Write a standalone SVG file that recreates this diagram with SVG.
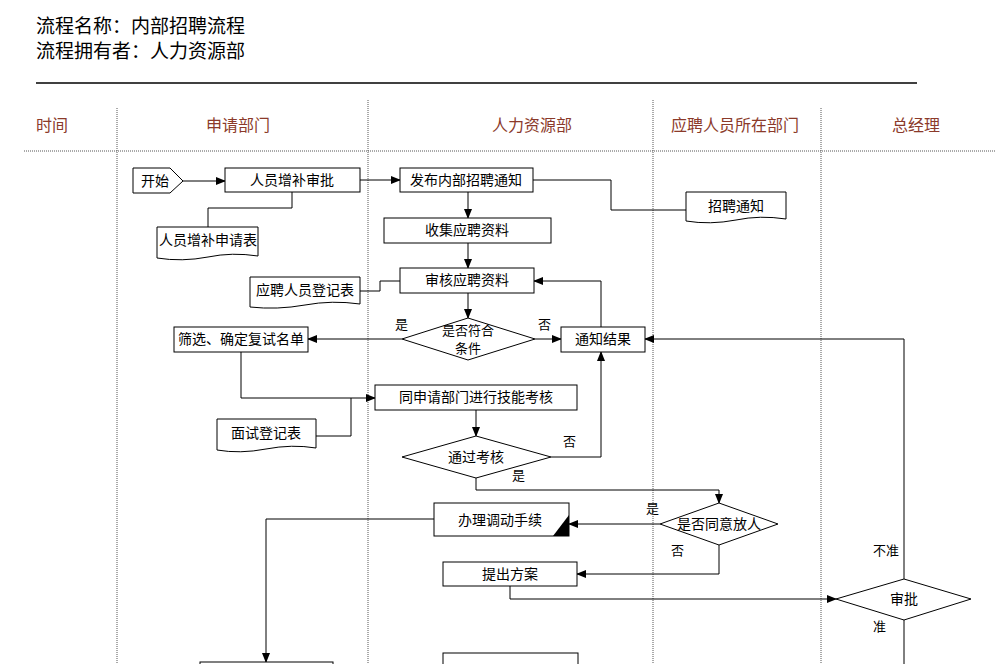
<svg xmlns="http://www.w3.org/2000/svg" width="995" height="664" viewBox="0 0 995 664">
<defs>
<marker id="ar" markerWidth="10" markerHeight="8" refX="9" refY="4" orient="auto" markerUnits="userSpaceOnUse"><path d="M0,0 L10,4 L0,8 z" fill="#000"/></marker>
</defs>
<style>
text{font-family:"Noto Sans CJK SC","Liberation Sans",sans-serif;fill:#000}
.t{font-size:19px}
.h{font-size:16px;fill:#8b3a2a;text-anchor:middle}
.n{font-size:14px;text-anchor:middle}
.s{font-size:13px;text-anchor:middle}
.l{font-size:13px}
.b{fill:#fff;stroke:#000;stroke-width:1}
.c{fill:none;stroke:#000;stroke-width:1;marker-end:url(#ar)}
.p{fill:none;stroke:#000;stroke-width:1}
.d{stroke:#555;stroke-width:1;stroke-dasharray:1,1}
</style>
<rect width="995" height="664" fill="#fff"/>
<g id="header">
<text class="t" x="36" y="33">流程名称：内部招聘流程</text>
<text class="t" x="36" y="58">流程拥有者：人力资源部</text>
<line x1="36" y1="83" x2="917" y2="83" stroke="#000" stroke-width="1.5"/>
<text class="h" x="52" y="131">时间</text>
<text class="h" x="238" y="131">申请部门</text>
<text class="h" x="532" y="131">人力资源部</text>
<text class="h" x="735" y="131">应聘人员所在部门</text>
<text class="h" x="916" y="131">总经理</text>
<line class="d" x1="24" y1="151" x2="995" y2="151"/>
<line class="d" x1="117" y1="108" x2="117" y2="664"/>
<line class="d" x1="368" y1="100" x2="368" y2="664"/>
<line class="d" x1="653" y1="100" x2="653" y2="664"/>
<line class="d" x1="821" y1="108" x2="821" y2="664"/>
</g>
<g id="connectors">
<path class="c" d="M183,181 H225"/>
<path class="p" d="M292,192 V208 H208 V227"/>
<path class="c" d="M360,180 H400"/>
<path class="p" d="M533,180 H611 V210 H686"/>
<path class="c" d="M468,192 V218"/>
<path class="c" d="M468,243 V268"/>
<path class="p" d="M360,291 H380 V281 H400"/>
<path class="c" d="M468,293 V318"/>
<path class="c" d="M402,339 H308"/>
<path class="c" d="M535,339 H561"/>
<path class="c" d="M601,327 V281 H534"/>
<path class="c" d="M241,352 V398 H375"/>
<path class="p" d="M316,436 H351 V398"/>
<path class="c" d="M476,410 V436"/>
<path class="c" d="M551,457 H601 V352"/>
<path class="c" d="M476,478 V490 H719 V503"/>
<path class="c" d="M660,524 H569"/>
<path class="c" d="M719,545 V574 H577"/>
<path class="c" d="M510,586 V599 H836"/>
<path class="c" d="M904,579 V339 H645"/>
<path class="p" d="M904,620 V664"/>
<path class="c" d="M434,519 H266 V662"/>
<text class="l" x="395" y="329">是</text>
<text class="l" x="538" y="329">否</text>
<text class="l" x="563" y="446">否</text>
<text class="l" x="512" y="480">是</text>
<text class="l" x="646" y="513">是</text>
<text class="l" x="671" y="555">否</text>
<text class="l" x="873" y="555">不准</text>
<text class="l" x="873" y="631">准</text>
</g>
<g id="start"><path class="b" d="M133,168 H170 L183,181 L170,193 H133 Z"/><text class="n" x="155" y="186">开始</text></g>
<g id="n1"><rect class="b" x="225" y="168" width="135" height="24"/><text class="n" x="292" y="185">人员增补审批</text></g>
<g id="doc1"><path class="b" d="M157,227 H258 V256 Q232,252 208,257 Q182,262 157,258 Z"/><text class="n" x="208" y="245">人员增补申请表</text></g>
<g id="n2"><rect class="b" x="400" y="168" width="133" height="24"/><text class="n" x="466" y="185">发布内部招聘通知</text></g>
<g id="doc2"><path class="b" d="M686,192 H786 V219 Q760,215 736,220 Q710,225 686,221 Z"/><text class="n" x="736" y="211">招聘通知</text></g>
<g id="n3"><rect class="b" x="384" y="218" width="167" height="25"/><text class="n" x="467" y="235">收集应聘资料</text></g>
<g id="n4"><rect class="b" x="400" y="268" width="134" height="25"/><text class="n" x="467" y="285">审核应聘资料</text></g>
<g id="doc3"><path class="b" d="M250,277 H360 V304 Q332,300 305,305 Q277,310 250,307 Z"/><text class="n" x="305" y="295">应聘人员登记表</text></g>
<g id="d1"><path class="b" d="M402,339 L468,318 L535,339 L468,360 Z"/><text class="s" x="468" y="335">是否符合</text><text class="s" x="468" y="353">条件</text></g>
<g id="n5"><rect class="b" x="174" y="327" width="134" height="25"/><text class="n" x="241" y="344">筛选、确定复试名单</text></g>
<g id="n6"><rect class="b" x="561" y="327" width="84" height="25"/><text class="n" x="603" y="344">通知结果</text></g>
<g id="n7"><rect class="b" x="375" y="385" width="202" height="25"/><text class="n" x="476" y="402">同申请部门进行技能考核</text></g>
<g id="doc4"><path class="b" d="M217,419 H316 V448 Q292,444 266,449 Q240,454 217,450 Z"/><text class="n" x="266" y="438">面试登记表</text></g>
<g id="d2"><path class="b" d="M402,457 L476,436 L551,457 L476,478 Z"/><text class="n" x="476" y="462">通过考核</text></g>
<g id="d3"><path class="b" d="M660,524 L719,503 L778,524 L719,545 Z"/><text class="n" x="719" y="529">是否同意放人</text></g>
<g id="n8"><rect class="b" x="434" y="503" width="135" height="33"/><path d="M553,536 L569,515 V536 Z" fill="#000"/><text class="n" x="500" y="525">办理调动手续</text></g>
<g id="n9"><rect class="b" x="443" y="562" width="134" height="24"/><text class="n" x="510" y="579">提出方案</text></g>
<g id="d4"><path class="b" d="M836,599 L904,579 L971,599 L904,620 Z"/><text class="n" x="904" y="604">审批</text></g>
<g id="n10"><rect class="b" x="200" y="662" width="133" height="20"/></g>
<g id="n11"><rect class="b" x="443" y="653" width="135" height="25"/></g>
</svg>
